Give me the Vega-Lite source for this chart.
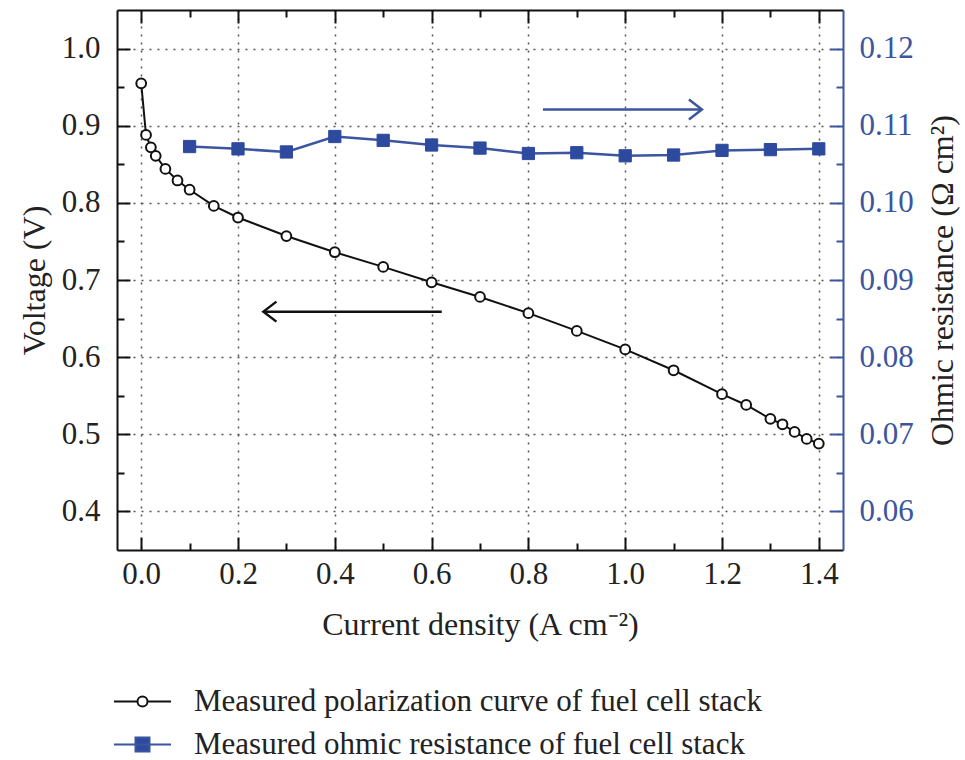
{
  "$schema": "https://vega.github.io/schema/vega-lite/v6.json",
  "width": 726,
  "height": 540,
  "autosize": "none",
  "padding": {"left": 117, "top": 10, "right": 122, "bottom": 210},
  "background": "white",
  "config": {
    "view": {"stroke": null},
    "font": "Liberation Serif",
    "axis": {
      "labelFont": "Liberation Serif",
      "titleFont": "Liberation Serif",
      "labelFontSize": 31,
      "titleFontSize": 32,
      "titleFontWeight": "normal",
      "labelColor": "#222",
      "titleColor": "#222",
      "domainWidth": 2,
      "tickWidth": 2,
      "gridDash": [2, 6],
      "gridColor": "#555",
      "gridWidth": 1.5
    }
  },
  "datasets": {
    "pol": [
      {"I": 0.0, "V": 0.955, "series": "Measured polarization curve of fuel cell stack"},
      {"I": 0.01, "V": 0.888, "series": "Measured polarization curve of fuel cell stack"},
      {"I": 0.02, "V": 0.872, "series": "Measured polarization curve of fuel cell stack"},
      {"I": 0.03, "V": 0.861, "series": "Measured polarization curve of fuel cell stack"},
      {"I": 0.05, "V": 0.844, "series": "Measured polarization curve of fuel cell stack"},
      {"I": 0.075, "V": 0.829, "series": "Measured polarization curve of fuel cell stack"},
      {"I": 0.1, "V": 0.817, "series": "Measured polarization curve of fuel cell stack"},
      {"I": 0.15, "V": 0.796, "series": "Measured polarization curve of fuel cell stack"},
      {"I": 0.2, "V": 0.781, "series": "Measured polarization curve of fuel cell stack"},
      {"I": 0.3, "V": 0.757, "series": "Measured polarization curve of fuel cell stack"},
      {"I": 0.4, "V": 0.736, "series": "Measured polarization curve of fuel cell stack"},
      {"I": 0.5, "V": 0.717, "series": "Measured polarization curve of fuel cell stack"},
      {"I": 0.6, "V": 0.697, "series": "Measured polarization curve of fuel cell stack"},
      {"I": 0.7, "V": 0.678, "series": "Measured polarization curve of fuel cell stack"},
      {"I": 0.8, "V": 0.657, "series": "Measured polarization curve of fuel cell stack"},
      {"I": 0.9, "V": 0.634, "series": "Measured polarization curve of fuel cell stack"},
      {"I": 1.0, "V": 0.61, "series": "Measured polarization curve of fuel cell stack"},
      {"I": 1.1, "V": 0.583, "series": "Measured polarization curve of fuel cell stack"},
      {"I": 1.2, "V": 0.552, "series": "Measured polarization curve of fuel cell stack"},
      {"I": 1.25, "V": 0.538, "series": "Measured polarization curve of fuel cell stack"},
      {"I": 1.3, "V": 0.52, "series": "Measured polarization curve of fuel cell stack"},
      {"I": 1.325, "V": 0.513, "series": "Measured polarization curve of fuel cell stack"},
      {"I": 1.35, "V": 0.503, "series": "Measured polarization curve of fuel cell stack"},
      {"I": 1.375, "V": 0.494, "series": "Measured polarization curve of fuel cell stack"},
      {"I": 1.4, "V": 0.488, "series": "Measured polarization curve of fuel cell stack"}
    ],
    "ohm": [
      {"I": 0.1, "R": 0.1073, "series": "Measured ohmic resistance of fuel cell stack"},
      {"I": 0.2, "R": 0.107, "series": "Measured ohmic resistance of fuel cell stack"},
      {"I": 0.3, "R": 0.1066, "series": "Measured ohmic resistance of fuel cell stack"},
      {"I": 0.4, "R": 0.1086, "series": "Measured ohmic resistance of fuel cell stack"},
      {"I": 0.5, "R": 0.1081, "series": "Measured ohmic resistance of fuel cell stack"},
      {"I": 0.6, "R": 0.1075, "series": "Measured ohmic resistance of fuel cell stack"},
      {"I": 0.7, "R": 0.1071, "series": "Measured ohmic resistance of fuel cell stack"},
      {"I": 0.8, "R": 0.1064, "series": "Measured ohmic resistance of fuel cell stack"},
      {"I": 0.9, "R": 0.1065, "series": "Measured ohmic resistance of fuel cell stack"},
      {"I": 1.0, "R": 0.1061, "series": "Measured ohmic resistance of fuel cell stack"},
      {"I": 1.1, "R": 0.1062, "series": "Measured ohmic resistance of fuel cell stack"},
      {"I": 1.2, "R": 0.1068, "series": "Measured ohmic resistance of fuel cell stack"},
      {"I": 1.3, "R": 0.1069, "series": "Measured ohmic resistance of fuel cell stack"},
      {"I": 1.4, "R": 0.107, "series": "Measured ohmic resistance of fuel cell stack"}
    ],
    "arrowL": [{"x1": 0.621, "x2": 0.2525, "y": 0.659}],
    "arrowR": [{"x1": 0.83, "x2": 1.1585, "y": 0.1121}]
  },
  "layer": [
    {
      "layer": [
        {
          "data": {"name": "pol"},
          "mark": {"type": "line", "strokeWidth": 2},
          "encoding": {
            "x": {
              "field": "I", "type": "quantitative",
              "scale": {"domain": [-0.05, 1.45], "nice": false, "zero": false},
              "axis": {
                "orient": "bottom",
                "title": "Current density (A cm⁻²)",
                "values": [0, 0.1, 0.2, 0.3, 0.4, 0.5, 0.6, 0.7, 0.8, 0.9, 1.0, 1.1, 1.2, 1.3, 1.4],
                "labelExpr": "round(datum.value*10)%2==0 ? format(datum.value,'.1f') : ''",
                "tickSize": {"condition": {"test": "round(datum.value*10)%2==0", "value": -13}, "value": -7},
                "gridOpacity": {"condition": {"test": "round(datum.value*10)%2==0", "value": 1}, "value": 0},
                "grid": true,
                "domainColor": "#111",
                "tickColor": "#111",
                "labelPadding": 22,
                "titlePadding": 20
              }
            },
            "y": {
              "field": "V", "type": "quantitative",
              "scale": {"domain": [0.35, 1.05], "nice": false, "zero": false},
              "axis": {
                "orient": "left",
                "title": "Voltage (V)",
                "values": [0.4, 0.45, 0.5, 0.55, 0.6, 0.65, 0.7, 0.75, 0.8, 0.85, 0.9, 0.95, 1.0],
                "labelExpr": "round(datum.value*100)%10==0 ? format(datum.value,'.1f') : ''",
                "tickSize": {"condition": {"test": "round(datum.value*100)%10==0", "value": -13}, "value": -7},
                "gridOpacity": {"condition": {"test": "round(datum.value*100)%10==0", "value": 1}, "value": 0},
                "grid": true,
                "domainColor": "#111",
                "tickColor": "#111",
                "labelPadding": 30,
                "titlePadding": 10
              }
            },
            "color": {
              "field": "series", "type": "nominal",
              "scale": {
                "domain": ["Measured polarization curve of fuel cell stack", "Measured ohmic resistance of fuel cell stack"],
                "range": ["#111111", "#3B55A0"]
              },
              "legend": {
                "orient": "none",
                "legendX": 10,
                "legendY": 676,
                "title": null,
                "padding": 0,
                "labelFont": "Liberation Serif",
                "labelFontSize": 31,
                "labelColor": "#222",
                "labelLimit": 1000,
                "labelOffset": 36,
                "rowPadding": 11,
                "symbolSize": 100,
                "encode": {
                  "symbols": {
                    "update": {
                      "shape": {"signal": "indexof(datum.value,'polarization')>=0 ? 'M-5.7,0H-1M1,0H5.7M1,0A1,1,0,1,1,-1,0A1,1,0,1,1,1,0Z' : 'M-5.7,0H5.7M-1.4,-1.4H1.4V1.4H-1.4Z'"},
                      "fill": {"signal": "indexof(datum.value,'polarization')>=0 ? 'white' : '#2E4A9F'"},
                      "stroke": {"signal": "indexof(datum.value,'polarization')>=0 ? '#111111' : '#3B55A0'"},
                      "strokeWidth": {"value": 2},
                      "size": {"value": 100},
                      "opacity": {"value": 1}
                    }
                  }
                }
              }
            }
          }
        },
        {
          "data": {"name": "pol"},
          "mark": {"type": "point", "shape": "circle", "size": 95, "filled": true, "fill": "white", "stroke": "#111111", "strokeWidth": 2, "opacity": 1},
          "encoding": {
            "x": {"field": "I", "type": "quantitative"},
            "y": {"field": "V", "type": "quantitative"}
          }
        },
        {
          "data": {"name": "arrowL"},
          "mark": {"type": "rule", "stroke": "#111111", "strokeWidth": 2.5},
          "encoding": {
            "x": {"field": "x1", "type": "quantitative"},
            "x2": {"field": "x2"},
            "y": {"field": "y", "type": "quantitative"}
          }
        },
        {
          "data": {"name": "arrowL"},
          "mark": {"type": "point", "shape": "M1.3,-1L0,0L1.3,1", "size": 400, "filled": false, "stroke": "#111111", "strokeWidth": 2.5, "opacity": 1},
          "encoding": {
            "x": {"field": "x2", "type": "quantitative"},
            "y": {"field": "y", "type": "quantitative"}
          }
        }
      ]
    },
    {
      "layer": [
        {
          "data": {"name": "ohm"},
          "mark": {"type": "line", "strokeWidth": 2.5},
          "encoding": {
            "x": {
              "field": "I", "type": "quantitative",
              "scale": {"domain": [-0.05, 1.45], "nice": false, "zero": false},
              "axis": {
                "orient": "top",
                "title": null,
                "values": [0, 0.1, 0.2, 0.3, 0.4, 0.5, 0.6, 0.7, 0.8, 0.9, 1.0, 1.1, 1.2, 1.3, 1.4],
                "labels": false,
                "tickSize": {"condition": {"test": "round(datum.value*10)%2==0", "value": -13}, "value": -7},
                "grid": false,
                "domainColor": "#111",
                "tickColor": "#111"
              }
            },
            "y": {
              "field": "R", "type": "quantitative",
              "scale": {"domain": [0.055, 0.125], "nice": false, "zero": false},
              "axis": {
                "orient": "right",
                "title": "Ohmic resistance (Ω cm²)",
                "titleAngle": -90,
                "titleBaseline": "top",
                "values": [0.06, 0.065, 0.07, 0.075, 0.08, 0.085, 0.09, 0.095, 0.1, 0.105, 0.11, 0.115, 0.12],
                "labelExpr": "round(datum.value*1000)%10==0 ? format(datum.value,'.2f') : ''",
                "tickSize": {"condition": {"test": "round(datum.value*1000)%10==0", "value": -13}, "value": -7},
                "grid": false,
                "domainColor": "#3B55A0",
                "tickColor": "#3B55A0",
                "labelColor": "#3B55A0",
                "labelPadding": 29,
                "titlePadding": 14
              }
            },
            "color": {"field": "series", "type": "nominal"}
          }
        },
        {
          "data": {"name": "ohm"},
          "mark": {"type": "point", "shape": "square", "size": 150, "filled": true, "fill": "#2E4A9F", "stroke": "#2E4A9F", "strokeWidth": 1, "opacity": 1},
          "encoding": {
            "x": {"field": "I", "type": "quantitative"},
            "y": {"field": "R", "type": "quantitative"}
          }
        },
        {
          "data": {"name": "arrowR"},
          "mark": {"type": "rule", "stroke": "#3B55A0", "strokeWidth": 2.5},
          "encoding": {
            "x": {"field": "x1", "type": "quantitative"},
            "x2": {"field": "x2"},
            "y": {"field": "y", "type": "quantitative"}
          }
        },
        {
          "data": {"name": "arrowR"},
          "mark": {"type": "point", "shape": "M-1.3,-1L0,0L-1.3,1", "size": 400, "filled": false, "stroke": "#3B55A0", "strokeWidth": 2.5, "opacity": 1},
          "encoding": {
            "x": {"field": "x2", "type": "quantitative"},
            "y": {"field": "y", "type": "quantitative"}
          }
        }
      ]
    }
  ],
  "resolve": {"scale": {"y": "independent"}, "axis": {"x": "independent"}}
}
